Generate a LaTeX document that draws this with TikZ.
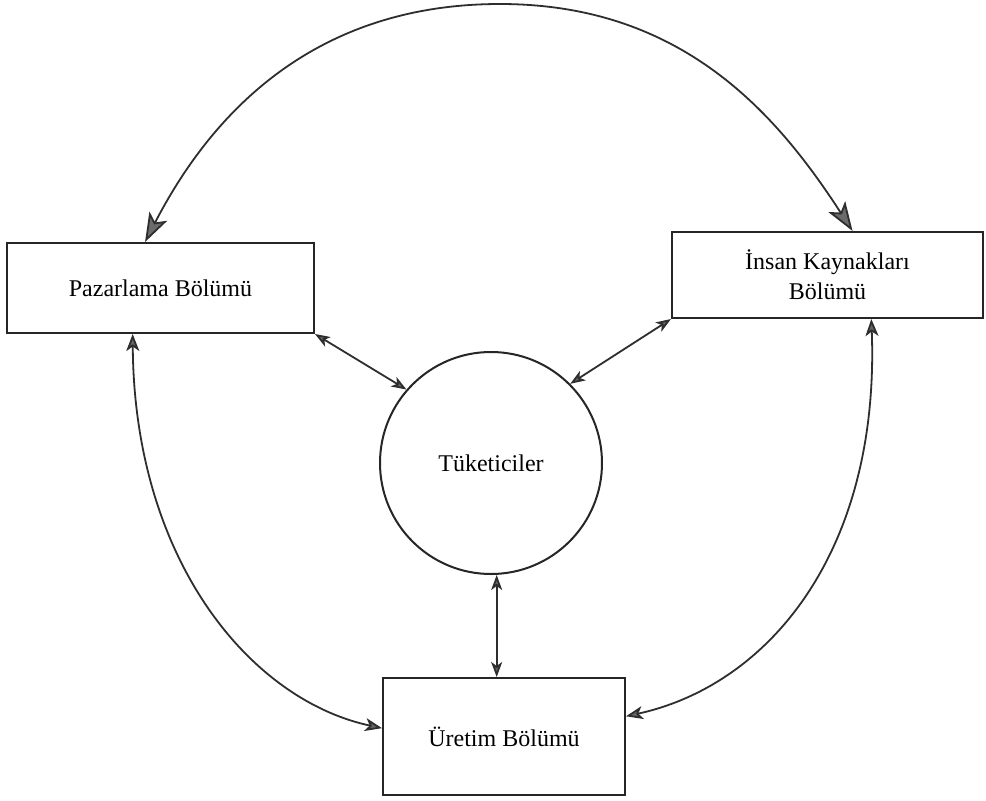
\documentclass[tikz,border=0pt]{standalone}
\usepackage{fontspec}
\setmainfont{Liberation Serif}
\usetikzlibrary{arrows.meta,calc}
\tikzset{
  tipS/.tip={Stealth[length=15pt,width=11pt,inset=4pt,fill=black!60]},
  tipM/.tip={Stealth[length=17pt,width=13pt,inset=4.5pt,fill=black!60]},
  tipL/.tip={Stealth[length=29pt,width=20pt,inset=7pt,fill=black!58]},
}
\begin{document}
\begin{tikzpicture}[x=1pt,y=-1pt,
  box/.style={draw=black!85, line width=2pt, rectangle, inner sep=0pt, align=center,
    font=\fontsize{24}{30}\selectfont},
  circ/.style={draw=black!85, line width=2pt, circle, inner sep=0pt,
    font=\fontsize{24}{30}\selectfont},
  conn/.style={draw=black!82, line width=1.8pt},
]
\useasboundingbox (0,0) rectangle (986,801);
\fill[white] (0,0) rectangle (986,801);

\node[box, minimum width=307pt, minimum height=90pt] (P) at (160.5,288) {Pazarlama Bölümü};
\node[box, minimum width=311pt, minimum height=86pt] (I) at (827.5,275) {İnsan Kaynakları\\Bölümü};
\node[box, minimum width=242pt, minimum height=117pt] (U) at (504,736.5) {Üretim Bölümü};
\node[circ, minimum size=222pt] (C) at (491,463) {Tüketiciler};

% top arc
\draw[conn, tipL-tipL] ($(P.north west)!0.45!(P.north east)$)
  .. controls (209,118) and (310,4) .. (500,4)
  .. controls (680,4) and (775,111) .. ($(I.north west)!0.58!(I.north east)$);

% left arc
\draw[conn, tipM-tipM] ($(P.south west)!0.41!(P.south east)$)
  .. controls (134,560) and (250,700) .. ($(U.north west)!0.43!(U.south west)$);

% right arc
\draw[conn, tipM-tipM] ($(I.south west)!0.64!(I.south east)$)
  .. controls (880,550) and (770,685) .. ($(U.north east)!0.33!(U.south east)$);

% spokes
\draw[conn, tipS-tipS] (P.south east) -- (C.139);
\draw[conn, tipS-tipS] (I.south west) -- (C.45);
\coordinate (Ut) at ($(U.north west)!0.47!(U.north east)$);
\draw[conn, tipS-tipS] (Ut |- C.south) -- (Ut);
\end{tikzpicture}
\end{document}
